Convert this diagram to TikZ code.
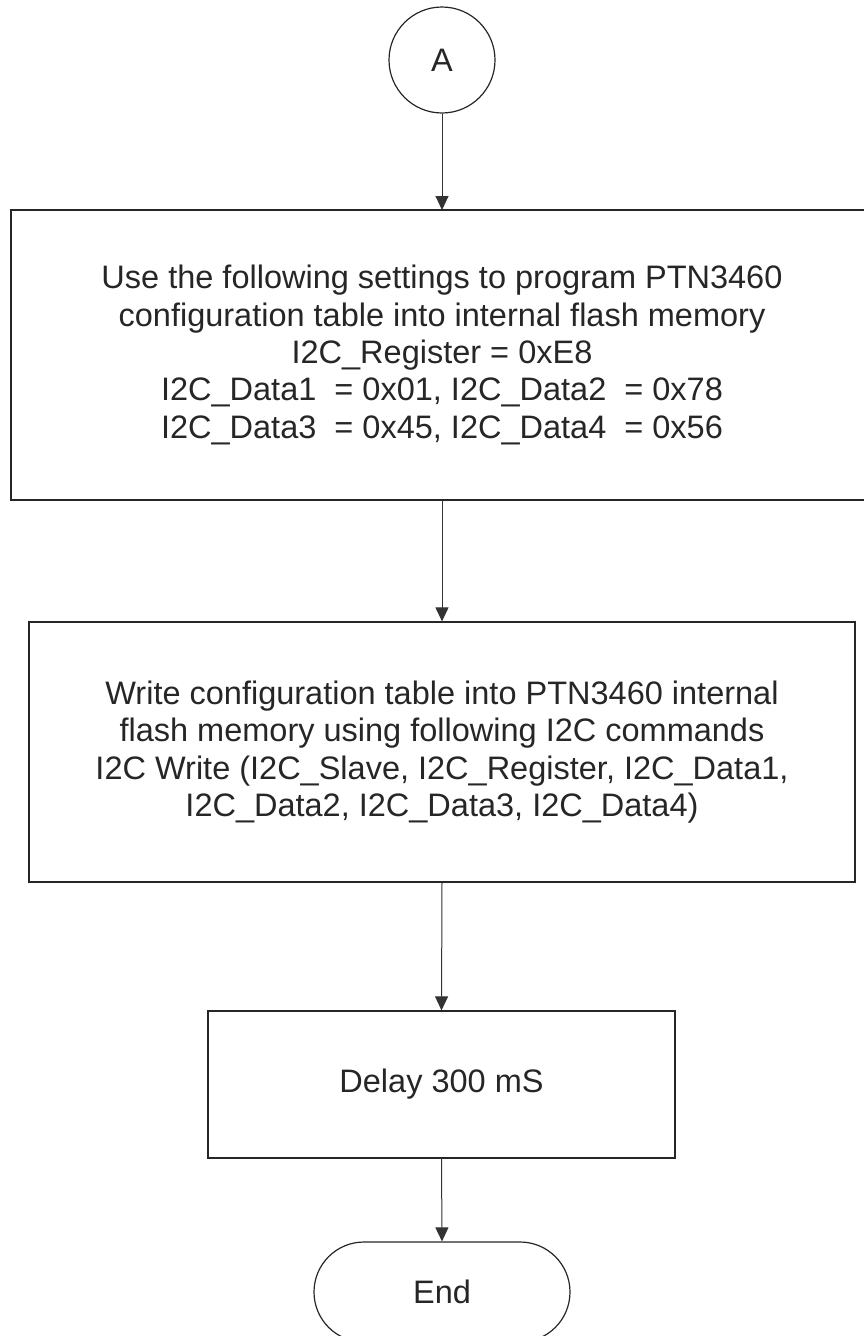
\documentclass[tikz,border=0pt]{standalone}
\usepackage{fontspec}
\setmainfont{Liberation Sans}
\usetikzlibrary{arrows.meta,shapes.misc}
\tikzset{
  boxline/.style={draw=black!85, line width=1.2pt},
  txt/.style={font=\fontsize{32.5}{37.4}\selectfont, align=center, text=black!85},
  flow/.style={draw=black!80, line width=1pt, -{Triangle[length=14pt,width=13pt]}},
}
\begin{document}
\begin{tikzpicture}[x=1pt,y=-1pt]
\useasboundingbox (0,0) rectangle (863,1336);
% connector circle
\node[circle, boxline, minimum size=106pt, inner sep=0pt, txt] (A) at (442,60) {A};
% box 1
\draw[boxline] (11,210) rectangle (875,500);
\coordinate (b1t) at (442,210);
\coordinate (b1b) at (442,500);
\node[txt] (t1) at (442,355) {Use the following settings to program PTN3460\\configuration table into internal flash memory\\I2C\_Register = 0xE8\\I2C\_Data1\ \ = 0x01, I2C\_Data2\ \ = 0x78\\I2C\_Data3\ \ = 0x45, I2C\_Data4\ \ = 0x56};
% box 2
\node[boxline, minimum width=826pt, minimum height=260pt, inner sep=0pt] (b2) at (442,752) {};
\node[txt] (t2) at (442,752) {Write configuration table into PTN3460 internal\\flash memory using following I2C commands\\I2C Write (I2C\_Slave, I2C\_Register, I2C\_Data1,\\I2C\_Data2, I2C\_Data3, I2C\_Data4)};
% box 3
\node[boxline, minimum width=467pt, minimum height=147pt, inner sep=0pt, txt] (b3) at (441.5,1084.5) {Delay 300 mS};
% end terminal
\node[rounded rectangle, boxline, minimum width=256pt, minimum height=100pt, inner sep=0pt, txt] (E) at (442,1292) {End};
% connectors
\draw[flow] (A.south) -- (b1t);
\draw[flow] (b1b) -- (b2.north);
\draw[flow] (b2.south) -- (b3.north);
\draw[flow] (b3.south) -- (E.north);
\end{tikzpicture}
\end{document}
